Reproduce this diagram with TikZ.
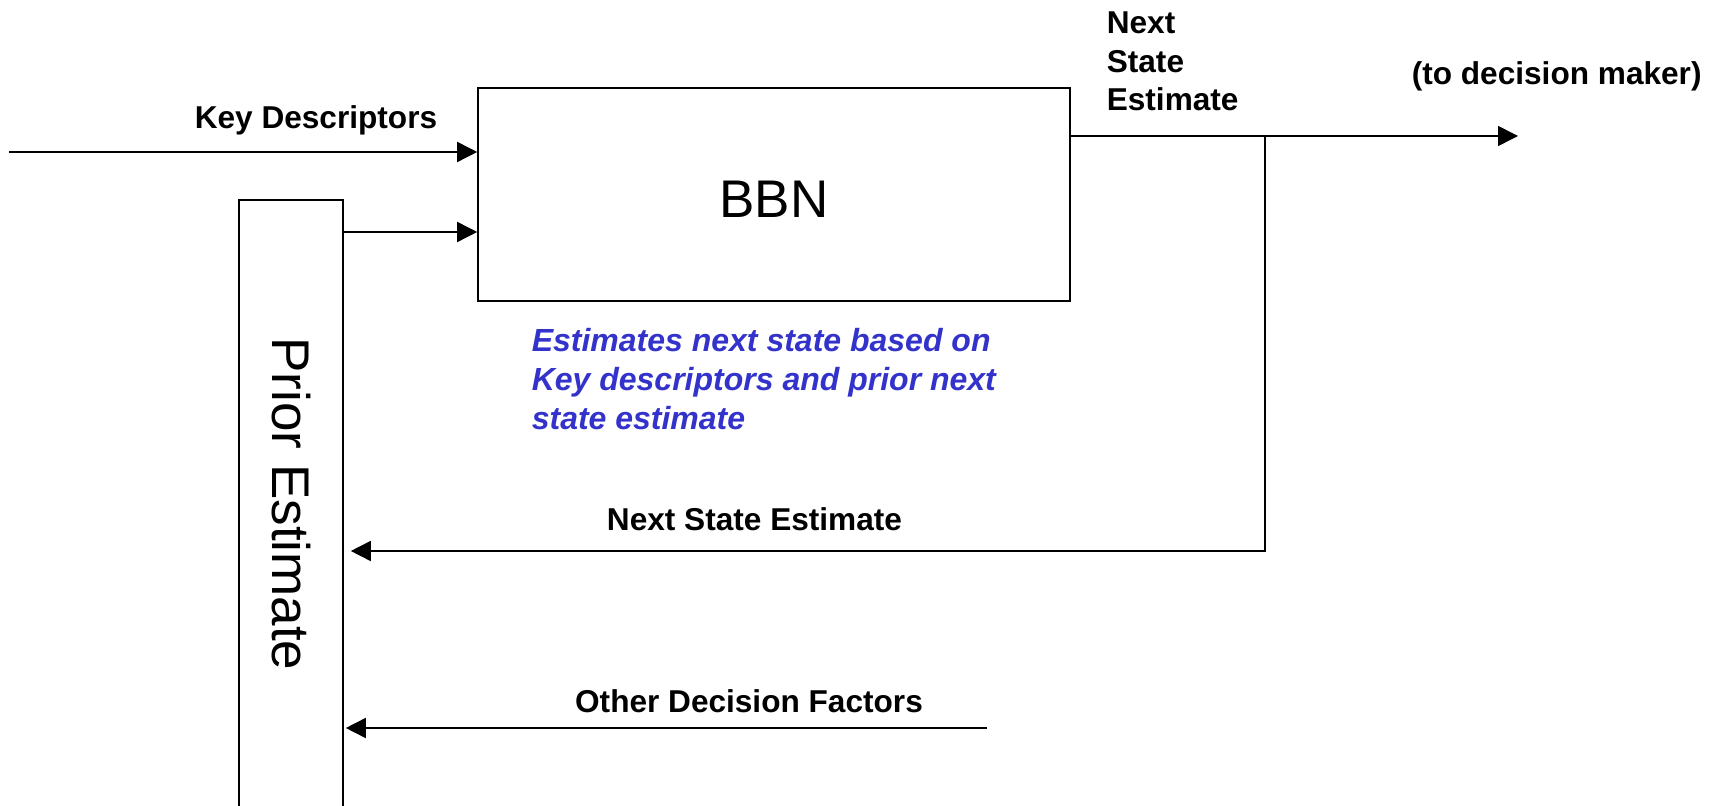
\documentclass[tikz,border=0pt]{standalone}
\usepackage{fontspec}
\setmainfont{Liberation Sans}
\usetikzlibrary{arrows.meta}
\definecolor{noteblue}{RGB}{51,51,204}
\begin{document}
\begin{tikzpicture}[x=0.5pt,y=-0.5pt,
  line width=0.8pt,
  arr/.style={-{Triangle[length=10pt,width=10pt]}},
  lbl/.style={font=\bfseries\fontsize{15.8pt}{19.25pt}\selectfont, inner sep=0pt},
  block/.style={draw, inner sep=0pt, font=\fontsize{26.5pt}{30pt}\selectfont}]
% canvas
\clip (0,0) rectangle (1724,806);
\fill[white] (0,0) rectangle (1724,806);

% blocks
\node[block, minimum width=296pt, minimum height=106.5pt, text height=23pt] (bbn) at (774,194.5) {BBN};
\node[block, rotate=-90, minimum width=304pt, minimum height=52pt] (prior) at (291,504) {Prior Estimate};

% connector end points
\coordinate (kd)   at (9,152);
\coordinate (pe)   at (0,232);
\coordinate (out)  at (1518,136);
\coordinate (junc) at (1265,136);
\coordinate (fb)   at (1265,551);
\coordinate (odf)  at (987,728);

% connectors
\draw[arr] (kd) -- (bbn.west |- kd);
\draw[arr] (prior.north |- pe) -- (bbn.west |- pe);
\draw[arr] (bbn.east |- out) -- (out);
\draw[arr] (junc) -- (fb) -- ([xshift=3.5pt]prior.north |- fb);
\draw[arr] (odf) -- ([xshift=1pt]prior.north |- odf);

% labels
\node[lbl, anchor=base] (kdl) at (316,129) {Key Descriptors};
\node[lbl, anchor=base] (fbl) at (754.5,531) {Next State Estimate};
\node[lbl, anchor=base] (odfl) at (749,712.5) {Other Decision Factors};
\node[lbl, anchor=north west, align=left] (nse) at (1106,11.4) {Next\\State\\Estimate};
\node[lbl, anchor=base west] (dm) at (1411,84.7) {(to decision maker)};
\node[anchor=north west, align=left, inner sep=0pt, text=noteblue,
      font=\bfseries\itshape\fontsize{16pt}{19.35pt}\selectfont] (note) at (531,328)
  {Estimates next state based on\\Key descriptors and prior next\\state estimate};
\end{tikzpicture}
\end{document}
